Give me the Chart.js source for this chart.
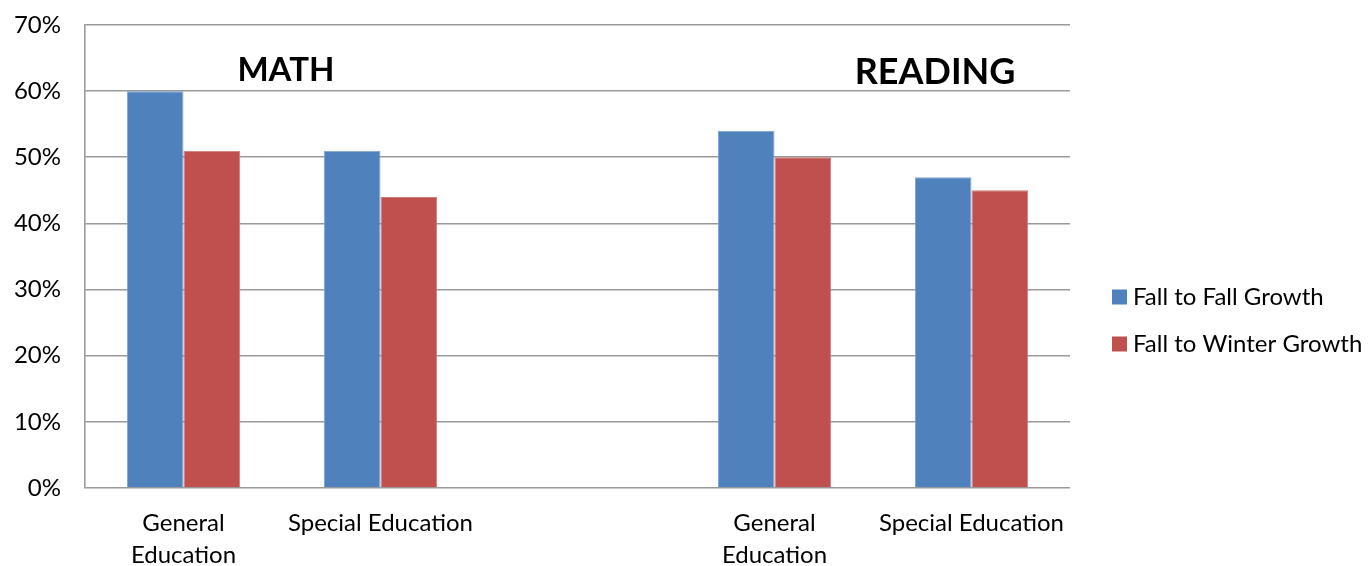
<!DOCTYPE html>
<html>
<head>
<meta charset="utf-8">
<script src="https://cdn.jsdelivr.net/npm/chart.js@4.4.0/dist/chart.umd.min.js"></script>
<style>
  html, body { margin: 0; padding: 0; background: #fff; }
  #wrap { width: 1371px; height: 566px; position: relative; }
</style>
</head>
<body>
<div id="wrap"><canvas id="c" width="1371" height="566"></canvas></div>
<script>
const categories = [["General", "Education"], "Special Education", "", ["General", "Education"], "Special Education"];
const fallToFall = [60, 51, null, 54, 47];
const fallToWinter = [51, 44, null, 50, 45];
const seriesNames = ["Fall to Fall Growth", "Fall to Winter Growth"];
const seriesColors = ["#4F81BD", "#C0504D"];
const yTicks = [0, 10, 20, 30, 40, 50, 60, 70];
const sectionLabels = ["MATH", "READING"];

const FONT = "Lato, 'Open Sans', sans-serif";

const sectionPlugin = {
  id: 'sections',
  afterDraw(chart) {
    const ctx = chart.ctx;
    const a = chart.chartArea;
    const y = chart.scales.y;
    ctx.save();
    ctx.fillStyle = '#000';
    ctx.textAlign = 'center';
    ctx.textBaseline = 'middle';
    ctx.font = "bold 33px " + FONT;
    ctx.fillText(sectionLabels[0], a.left + 0.204 * (a.right - a.left), y.getPixelForValue(63.2));
    ctx.font = "bold 36px " + FONT;
    ctx.fillText(sectionLabels[1], a.left + 0.863 * (a.right - a.left), y.getPixelForValue(62.9));

    // legend
    ctx.textAlign = 'left';
    ctx.font = "24px " + FONT;
    const lx = a.right + 42;
    const ys = [297, 344];
    seriesNames.forEach((name, i) => {
      ctx.fillStyle = seriesColors[i];
      ctx.fillRect(lx, ys[i] - 7.5, 15, 15);
      ctx.fillStyle = '#000';
      ctx.fillText(name, lx + 21, ys[i]);
    });
    ctx.restore();
  }
};

new Chart(document.getElementById('c'), {
  type: 'bar',
  data: {
    labels: categories,
    datasets: [
      { label: seriesNames[0], data: fallToFall, backgroundColor: seriesColors[0], borderColor: '#7EA2D0', borderWidth: {left:1, right:1, top:1, bottom:0}, borderSkipped: 'bottom' },
      { label: seriesNames[1], data: fallToWinter, backgroundColor: seriesColors[1], borderColor: '#D27C79', borderWidth: {left:1, right:1, top:1, bottom:0}, borderSkipped: 'bottom' }
    ]
  },
  options: {
    responsive: false,
    animation: false,
    layout: { padding: { top: 25, right: 301, left: 0, bottom: 0 } },
    datasets: { bar: { categoryPercentage: 0.575, barPercentage: 1.0 } },
    plugins: {
      title: { display: false },
      tooltip: { enabled: false },
      legend: { display: false }
    },
    scales: {
      x: {
        grid: { display: false },
        border: { display: false },
        ticks: { font: { family: FONT, size: 24, lineHeight: 1.3 }, color: '#000', maxRotation: 0, autoSkip: false, padding: 12 },
        afterFit(scale) { scale.height = 78; scale.paddingLeft = 0; scale.paddingRight = 0; }
      },
      y: {
        min: 0, max: 70,
        afterBuildTicks(scale) { scale.ticks = yTicks.map(v => ({ value: v })); },
        grid: { color: '#9a9a9a', lineWidth: 1.6, drawTicks: false },
        border: { display: true, color: '#9a9a9a', width: 1.6 },
        ticks: { font: { family: FONT, size: 24 }, color: '#000', padding: 24, callback: v => v + '%' },
        afterFit(scale) { scale.width = 85; scale.paddingTop = 0; scale.paddingBottom = 0; }
      }
    }
  },
  plugins: [sectionPlugin]
});
</script>
</body>
</html>
